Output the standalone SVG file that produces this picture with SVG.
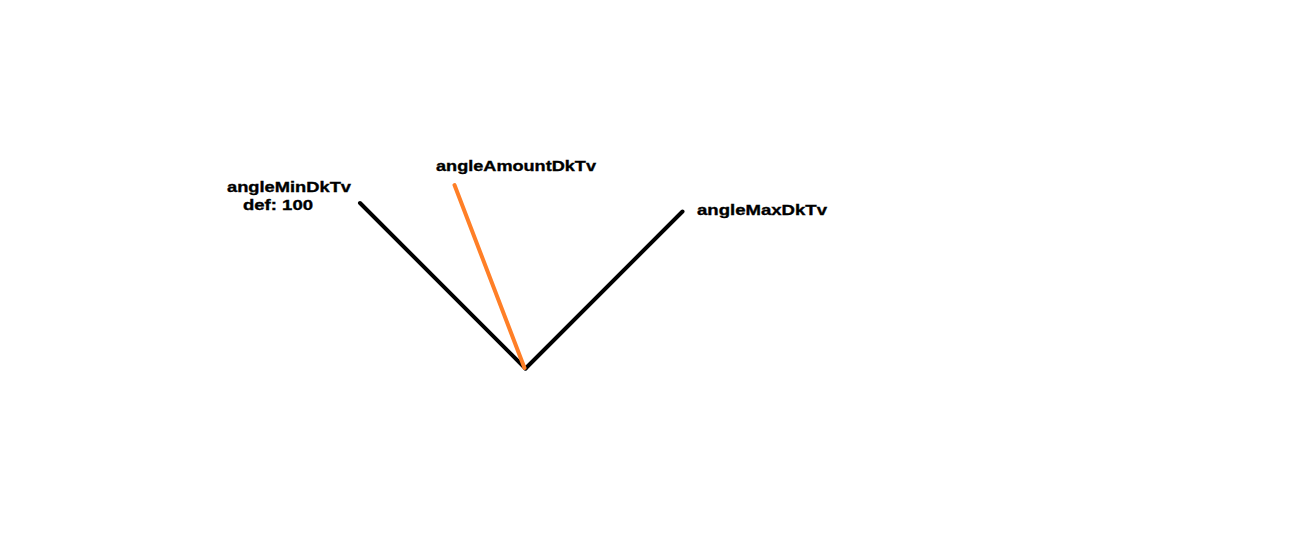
<svg xmlns="http://www.w3.org/2000/svg" width="1310" height="546" viewBox="0 0 1310 546">
<style>
.lbl{font-family:"Liberation Sans",Arial,sans-serif;font-weight:bold;font-size:15px;fill:#000;stroke:#000;stroke-width:0.35}
.arm{stroke:#000;stroke-width:4;stroke-linecap:round;fill:none}
.amt{stroke:#FF7F27;stroke-width:4;stroke-linecap:round;fill:none}
</style>
<rect width="1310" height="546" fill="#fff"/>
<g id="connectors">
<line class="arm" x1="360" y1="203" x2="525.5" y2="368.5"/>
<line class="arm" x1="525.5" y1="368.5" x2="682.5" y2="211.5"/>
<line class="amt" x1="454.5" y1="185" x2="524.5" y2="368"/>
</g>
<g id="angleMin">
<text class="lbl" x="227" y="192" textLength="124" lengthAdjust="spacingAndGlyphs">angleMinDkTv</text>
<text class="lbl" x="243" y="210" textLength="70" lengthAdjust="spacingAndGlyphs">def: 100</text>
</g>
<g id="angleAmount">
<text class="lbl" x="436" y="171" textLength="160" lengthAdjust="spacingAndGlyphs">angleAmountDkTv</text>
</g>
<g id="angleMax">
<text class="lbl" x="697" y="215" textLength="130" lengthAdjust="spacingAndGlyphs">angleMaxDkTv</text>
</g>
</svg>
